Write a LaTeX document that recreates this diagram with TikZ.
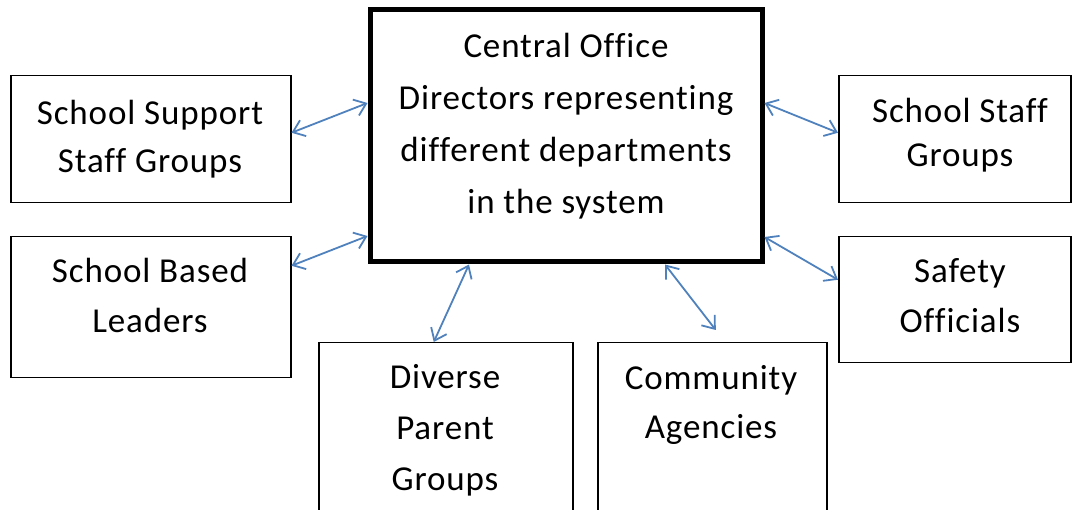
\documentclass[tikz,border=0pt]{standalone}
\usepackage{fontspec}
\setmainfont{Carlito}[Ligatures=NoCommon, LetterSpace=2.5]
\usepackage{tikz}
\usetikzlibrary{arrows.meta, positioning}
\definecolor{linkcolor}{RGB}{79,129,189}

\begin{document}
\begin{tikzpicture}[
    x=1pt, y=-1pt,
    box/.style={draw, line width=1.5pt, anchor=north west, inner sep=0pt},
    mainbox/.style={draw, line width=5pt, minimum width=392pt, minimum height=252pt, inner sep=0pt},
    lbl/.style={anchor=base, inner sep=0pt, align=center, font=\fontsize{35}{49}\selectfont},
    link/.style={{Straight Barb[length=11pt, width=17pt]}-{Straight Barb[length=11pt, width=17pt]}, line width=1.8pt, draw=linkcolor}
]
    \useasboundingbox (0,0) rectangle (1072,510);

    % Central office
    \node[mainbox] (central) at (566,136) {};
    \node[lbl, font=\fontsize{35}{52}\selectfont] (centraltxt) at (566,214) {Central Office\\Directors representing\\different departments\\in the system};

    % Left side (text placed at baseline of last line)
    \node[box, minimum width=280pt, minimum height=127pt] (sssg) at (10,75) {};
    \node[lbl, font=\fontsize{35}{48}\selectfont] (sssgtxt) at (150,173) {School Support\\Staff Groups};
    \node[box, minimum width=280pt, minimum height=141pt] (sbl) at (10,236) {};
    \node[lbl, font=\fontsize{35}{50}\selectfont] (sbltxt) at (150,333) {School Based\\Leaders};

    % Right side
    \node[box, minimum width=232pt, minimum height=127pt] (ssg) at (838,75) {};
    \node[lbl, font=\fontsize{35}{44}\selectfont] (ssgtxt) at (960,167) {School Staff\\Groups};
    \node[box, minimum width=232pt, minimum height=126pt] (so) at (838,236) {};
    \node[lbl, font=\fontsize{35}{50}\selectfont] (sotxt) at (960,333) {Safety\\Officials};

    % Bottom
    \node[box, minimum width=254pt, minimum height=200pt] (dpg) at (318,342) {};
    \node[lbl, font=\fontsize{35}{51}\selectfont] (dpgtxt) at (445,491) {Diverse\\Parent\\Groups};
    \node[box, minimum width=229pt, minimum height=200pt] (ca) at (597,342) {};
    \node[lbl, font=\fontsize{35}{49}\selectfont] (catxt) at (711,439) {Community\\Agencies};

    % Links
    \draw[link] ([yshift=6.5pt]sssg.east) -- ([yshift=33pt]central.west);
    \draw[link] ([yshift=41.5pt]sbl.east) -- ([yshift=-100pt]central.west);
    \draw[link] ([yshift=33pt]central.east) -- ([yshift=6.5pt]ssg.west);
    \draw[link] ([yshift=-101pt]central.east) -- ([yshift=20pt]so.west);
    \draw[link] ([xshift=-97pt]central.south) -- ([xshift=-12pt]dpg.north);
    \draw[link] ([xshift=99pt]central.south) -- ([xshift=3.5pt, yshift=12pt]ca.north);
\end{tikzpicture}
\end{document}
